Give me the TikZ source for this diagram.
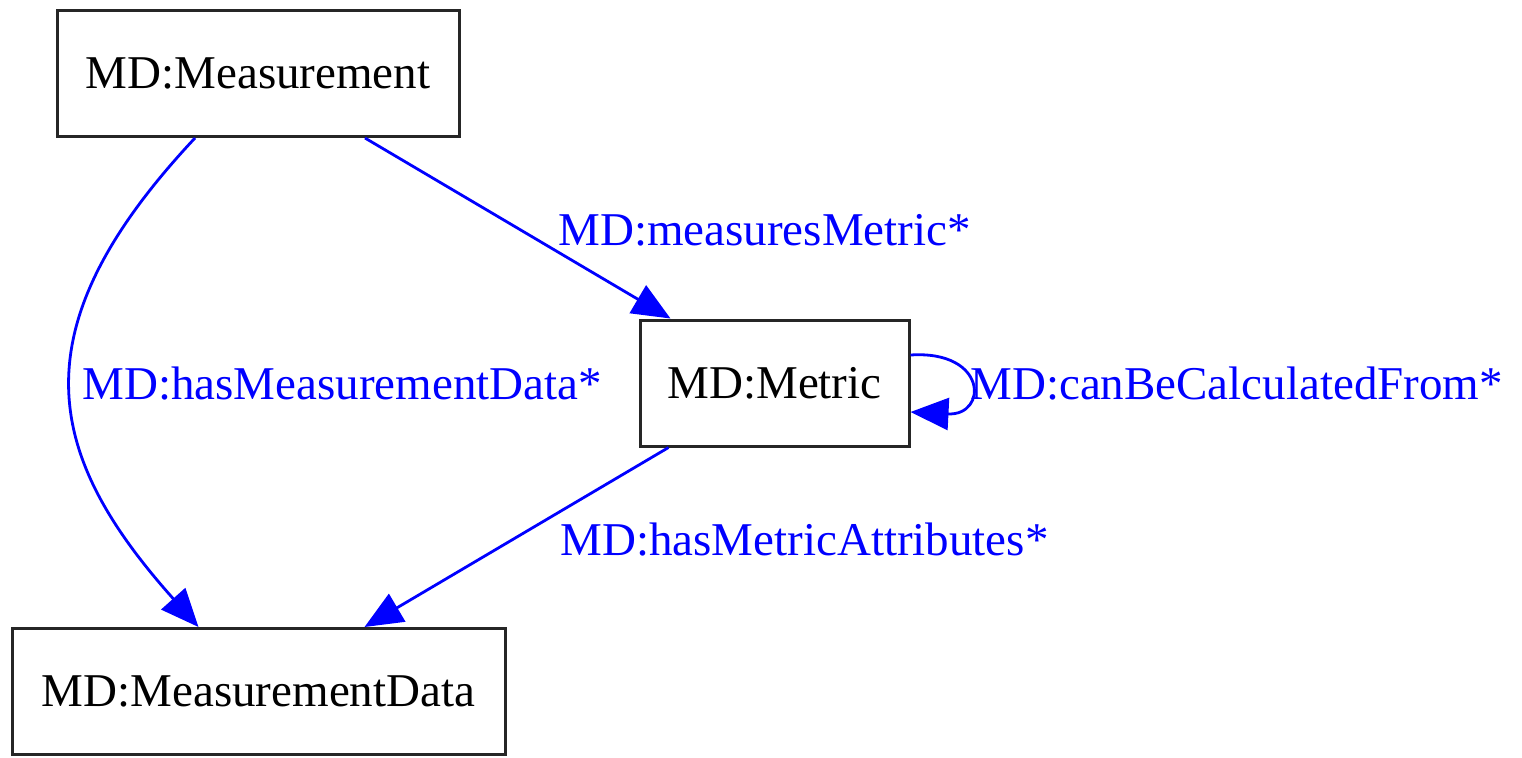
\documentclass[tikz,border=0pt]{standalone}
\usepackage{fontspec}
\setmainfont{Liberation Serif}
\usetikzlibrary{arrows.meta}
\colorlet{edge colour}{blue}
\colorlet{box edge}{black!85}
\def\labelfont{\fontsize{23.5}{28}\selectfont}
\tikzset{entity/.style={draw=box edge, line width=1.5pt, minimum height=63pt,
    inner sep=0pt, font=\labelfont},
    relation/.style={draw=edge colour, line width=1.4pt,
    -{Triangle[length=19pt,width=16pt]}},
    rellabel/.style={text=edge colour, inner sep=0pt, anchor=base west, font=\labelfont}}

\begin{document}
\begin{tikzpicture}[x=0.5pt, y=-0.5pt]
    \useasboundingbox (0,0) rectangle (1522,757);
    % classes
    \node[entity, minimum width=201pt]   (measurement) at (258,73.5)   {MD:Measurement};
    \node[entity, minimum width=134.5pt] (metric)      at (774.5,383)  {MD:Metric};
    \node[entity, minimum width=246.5pt] (data)        at (258.5,691.5) {MD:MeasurementData};
    % properties
    \draw[relation] ([xshift=-31.5pt]measurement.south)
      .. controls (15,330) and (45,455) .. ([xshift=-30pt]data.north);
    \draw[relation] ([xshift=53.5pt]measurement.south) -- ([xshift=-52pt]metric.north);
    \draw[relation] ([xshift=-53pt]metric.south) -- ([xshift=53pt]data.north);
    \draw[relation] ([yshift=14pt]metric.east)
      .. controls (988,350) and (988,416) .. ([yshift=-14.5pt]metric.east);
    \node[rellabel] (lblmeasures) at (558,245)  {MD:measuresMetric*};
    \node[rellabel] (lbldata)     at (82,399)   {MD:hasMeasurementData*};
    \node[rellabel] (lblcalc)     at (970,399)  {MD:canBeCalculatedFrom*};
    \node[rellabel] (lblattr)     at (560,555)  {MD:hasMetricAttributes*};
\end{tikzpicture}
\end{document}
